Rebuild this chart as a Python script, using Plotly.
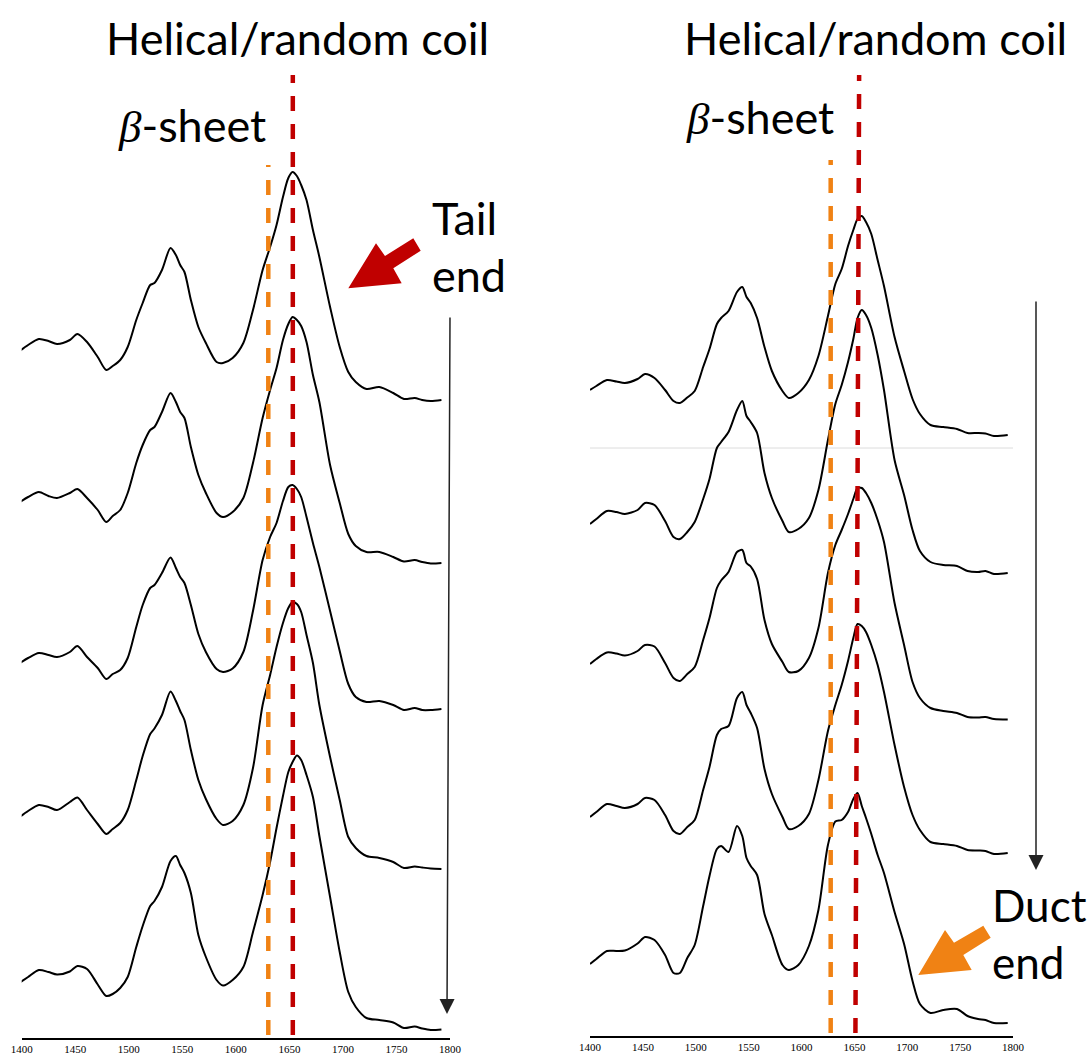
import plotly.graph_objects as go

W, H = 1088, 1055

# Wavenumber grids (cm^-1) for the two sets of spectra
wn_tail = [1397, 1406, 1416, 1425, 1433, 1445, 1452, 1461, 1471, 1479,
           1485, 1492, 1499, 1507, 1513, 1520, 1524, 1531, 1539, 1544,
           1548, 1552, 1558, 1565, 1572, 1582, 1588, 1597, 1607, 1616,
           1625, 1632, 1638, 1644, 1649, 1653, 1657, 1661, 1666, 1672,
           1678, 1688, 1697, 1705, 1712, 1722, 1734, 1747, 1757, 1767,
           1774, 1782, 1792]
wn_duct = [1400, 1406, 1416, 1425, 1433, 1445, 1452, 1461, 1471, 1479,
           1485, 1492, 1499, 1507, 1513, 1520, 1524, 1531, 1539, 1544,
           1548, 1552, 1558, 1565, 1572, 1582, 1588, 1597, 1607, 1616,
           1625, 1632, 1638, 1644, 1649, 1653, 1657, 1661, 1666, 1672,
           1678, 1688, 1697, 1705, 1712, 1722, 1734, 1747, 1757, 1767,
           1774, 1782, 1795]

# Baseline-corrected absorbance (a.u.), tail end series, top to bottom
tail_1 = [0.48, 0.55, 0.61, 0.59, 0.56, 0.60, 0.66, 0.58, 0.43, 0.30,
          0.34, 0.40, 0.53, 0.80, 0.97, 1.15, 1.17, 1.30, 1.52, 1.45,
          1.35, 1.28, 1.00, 0.73, 0.57, 0.38, 0.37, 0.42, 0.57, 0.90,
          1.30, 1.53, 1.75, 2.03, 2.22, 2.28, 2.24, 2.15, 2.00, 1.70,
          1.43, 0.93, 0.53, 0.28, 0.18, 0.11, 0.13, 0.07, 0.01, 0.02,
          0.00, -0.01, 0.00]
tail_2 = [0.60, 0.66, 0.71, 0.67, 0.65, 0.70, 0.74, 0.65, 0.53, 0.41,
          0.47, 0.53, 0.70, 1.00, 1.18, 1.33, 1.36, 1.51, 1.70, 1.61,
          1.51, 1.45, 1.16, 0.88, 0.70, 0.50, 0.46, 0.51, 0.65, 1.00,
          1.45, 1.73, 1.95, 2.23, 2.39, 2.46, 2.43, 2.37, 2.21, 1.88,
          1.61, 0.98, 0.60, 0.29, 0.17, 0.11, 0.11, 0.06, 0.015, 0.03,
          0.01, -0.005, 0.00]
tail_3 = [0.45, 0.51, 0.56, 0.54, 0.52, 0.57, 0.63, 0.52, 0.41, 0.30,
          0.35, 0.39, 0.51, 0.82, 1.04, 1.21, 1.24, 1.36, 1.515, 1.41,
          1.32, 1.26, 1.04, 0.75, 0.57, 0.40, 0.37, 0.405, 0.57, 0.98,
          1.49, 1.72, 1.86, 2.08, 2.22, 2.24, 2.20, 2.12, 1.92, 1.66,
          1.42, 0.98, 0.58, 0.25, 0.12, 0.07, 0.08, 0.04, -0.01, 0.01,
          -0.01, -0.01, 0.00]
tail_4 = [0.51, 0.58, 0.64, 0.62, 0.59, 0.67, 0.715, 0.59, 0.45, 0.35,
          0.40, 0.46, 0.59, 0.89, 1.13, 1.35, 1.405, 1.54, 1.775, 1.68,
          1.58, 1.49, 1.19, 0.89, 0.70, 0.50, 0.44, 0.48, 0.64, 1.01,
          1.64, 1.94, 2.22, 2.46, 2.61, 2.67, 2.65, 2.57, 2.34, 2.06,
          1.64, 1.12, 0.69, 0.32, 0.21, 0.13, 0.11, 0.07, 0.01, 0.025,
          0.015, 0.005, 0.00]
tail_5 = [0.46, 0.525, 0.595, 0.575, 0.55, 0.58, 0.635, 0.605, 0.45, 0.335,
          0.355, 0.415, 0.525, 0.825, 1.035, 1.235, 1.285, 1.425, 1.685, 1.735,
          1.645, 1.565, 1.365, 0.945, 0.725, 0.495, 0.44, 0.495, 0.625, 0.975,
          1.345, 1.675, 2.015, 2.335, 2.575, 2.675, 2.74, 2.695, 2.545, 2.325,
          1.935, 1.325, 0.775, 0.375, 0.225, 0.115, 0.095, 0.07, 0.015, 0.03,
          0.01, -0.005, 0.00]

# Baseline-corrected absorbance (a.u.), duct end series, top to bottom
duct_1 = [0.45, 0.49, 0.55, 0.535, 0.52, 0.56, 0.61, 0.57, 0.45, 0.34,
          0.32, 0.375, 0.44, 0.68, 0.86, 1.11, 1.17, 1.24, 1.43, 1.48,
          1.38, 1.32, 1.17, 0.88, 0.64, 0.44, 0.37, 0.42, 0.55, 0.79,
          1.19, 1.51, 1.66, 1.89, 2.05, 2.16, 2.19, 2.13, 2.01, 1.75,
          1.49, 0.98, 0.64, 0.36, 0.21, 0.10, 0.08, 0.06, 0.02, 0.02,
          0.015, -0.01, 0.00]
duct_2 = [0.49, 0.54, 0.62, 0.61, 0.59, 0.63, 0.70, 0.68, 0.52, 0.36,
          0.34, 0.41, 0.51, 0.74, 0.94, 1.25, 1.31, 1.41, 1.63, 1.72,
          1.57, 1.51, 1.40, 1.00, 0.75, 0.52, 0.41, 0.44, 0.55, 0.83,
          1.33, 1.69, 1.88, 2.11, 2.34, 2.55, 2.63, 2.58, 2.45, 2.18,
          1.83, 1.13, 0.78, 0.43, 0.22, 0.11, 0.08, 0.07, 0.02, 0.01,
          0.02, -0.01, 0.00]
duct_3 = [0.555, 0.605, 0.67, 0.66, 0.64, 0.685, 0.745, 0.73, 0.565, 0.415,
          0.385, 0.455, 0.525, 0.795, 1.015, 1.315, 1.39, 1.475, 1.675, 1.695,
          1.565, 1.53, 1.405, 0.995, 0.755, 0.575, 0.475, 0.485, 0.615, 0.915,
          1.465, 1.745, 1.895, 2.055, 2.205, 2.315, 2.315, 2.265, 2.165, 1.995,
          1.775, 1.165, 0.745, 0.375, 0.215, 0.115, 0.085, 0.065, 0.025, 0.02,
          0.025, 0.005, 0.00]
duct_4 = [0.36, 0.41, 0.49, 0.47, 0.45, 0.49, 0.55, 0.53, 0.38, 0.22,
          0.19, 0.26, 0.33, 0.63, 0.86, 1.18, 1.24, 1.27, 1.55, 1.61,
          1.48, 1.40, 1.25, 0.84, 0.59, 0.36, 0.24, 0.27, 0.39, 0.73,
          1.22, 1.48, 1.68, 1.92, 2.15, 2.29, 2.27, 2.21, 2.08, 1.88,
          1.61, 1.08, 0.66, 0.38, 0.23, 0.11, 0.09, 0.07, 0.03, 0.025,
          0.02, -0.01, 0.00]
duct_5 = [0.59, 0.64, 0.72, 0.72, 0.725, 0.795, 0.86, 0.83, 0.68, 0.50,
          0.50, 0.65, 0.78, 1.17, 1.47, 1.74, 1.77, 1.71, 1.97, 1.87,
          1.65, 1.57, 1.48, 1.09, 0.88, 0.58, 0.53, 0.58, 0.77, 1.13,
          1.78, 2.015, 2.03, 2.11, 2.24, 2.30, 2.17, 2.05, 1.89, 1.68,
          1.50, 1.11, 0.79, 0.42, 0.19, 0.10, 0.13, 0.14, 0.07, 0.04,
          0.03, 0.00, 0.00]

# Vertical stacking offsets (a.u.)
tail_offsets = [6.38, 4.75, 3.29, 1.69, 0.085]
duct_offsets = [6.007, 4.627, 3.162, 1.827, 0.127]

# Band positions (cm^-1) marked on each panel: [bottom, top]
tail_beta_x = [1630.3, 1630.3]
tail_helix_x = [1653.2, 1653.2]
duct_beta_x = [1627.6, 1627.6]
duct_helix_x = [1651.0, 1654.5]
tail_beta_y = [0.03, 8.73]
tail_helix_y = [0.03, 9.63]
duct_beta_y = [0.027, 8.757]
duct_helix_y = [0.027, 9.607]

tick_vals = [1400, 1450, 1500, 1550, 1600, 1650, 1700, 1750, 1800]

ORANGE = "#F08214"
RED = "#C00000"
TEXT_FONT = "Lato"

fig = go.Figure()

tail_series = [tail_1, tail_2, tail_3, tail_4, tail_5]
duct_series = [duct_1, duct_2, duct_3, duct_4, duct_5]

for series, off in zip(tail_series, tail_offsets):
    fig.add_trace(go.Scatter(x=wn_tail, y=[v + off for v in series],
                             mode="lines", line=dict(color="black", width=2,
                                                     shape="spline", smoothing=0.8),
                             xaxis="x", yaxis="y", showlegend=False,
                             hoverinfo="skip", cliponaxis=False))
for series, off in zip(duct_series, duct_offsets):
    fig.add_trace(go.Scatter(x=wn_duct, y=[v + off for v in series],
                             mode="lines", line=dict(color="black", width=2,
                                                     shape="spline", smoothing=0.8),
                             xaxis="x2", yaxis="y2", showlegend=False,
                             hoverinfo="skip"))

# Dashed band markers
for xs, ys, col, xa, ya in [
    (tail_beta_x, tail_beta_y, ORANGE, "x", "y"),
    (tail_helix_x, tail_helix_y, RED, "x", "y"),
    (duct_beta_x, duct_beta_y, ORANGE, "x2", "y2"),
    (duct_helix_x, duct_helix_y, RED, "x2", "y2"),
]:
    fig.add_trace(go.Scatter(x=xs, y=ys, mode="lines",
                             line=dict(color=col, width=4.5, dash="15px,13px"),
                             xaxis=xa, yaxis=ya, showlegend=False,
                             hoverinfo="skip"))


def px_path(points):
    return "M " + " L ".join(f"{x / W:.5f},{1 - y / H:.5f}" for x, y in points) + " Z"


red_arrow = [(348.3, 288.3), (376, 243.3), (385, 256), (413.3, 238.3),
             (420.7, 250.7), (393.3, 268.3), (401.7, 283.3)]
orange_arrow = [(918.3, 975), (945, 930), (954, 942.7), (983.3, 925.7),
                (990.7, 937.7), (963.3, 955), (971.7, 970)]

shapes = [
    dict(type="path", xref="paper", yref="paper", path=px_path(red_arrow),
         fillcolor=RED, line=dict(width=0)),
    dict(type="path", xref="paper", yref="paper", path=px_path(orange_arrow),
         fillcolor=ORANGE, line=dict(width=0)),
    dict(type="line", xref="x2", yref="y2", x0=1400, x1=1800, y0=5.877, y1=5.877,
         line=dict(color="#dcdcdc", width=1), layer="below"),
]


def label(text, x, yc, anchor="center", size=45):
    return dict(text=text, x=x / W, y=1 - yc / H, xref="paper", yref="paper",
                xanchor=anchor, yanchor="middle", showarrow=False,
                font=dict(family=TEXT_FONT, size=size, color="black"))


beta = "<span style=\"font-family:'Liberation Serif';font-style:italic\">β</span>-sheet"

annotations = [
    label("Helical/random coil", 297, 38),
    label("Helical/random coil", 875, 38),
    label(beta, 191.5, 125),
    label(beta, 759.5, 117),
    label("Tail", 430, 218, anchor="left"),
    label("end", 430, 275, anchor="left"),
    label("Duct", 990, 905, anchor="left", size=44),
    label("end", 990, 962, anchor="left", size=44),
    # ordering arrows along each stack
    dict(x=447 / W, y=1 - 1014 / H, xref="paper", yref="paper", text="",
         showarrow=True, ax=3, ay=-698, arrowhead=2, arrowsize=2,
         arrowwidth=1.5, arrowcolor="#222222", standoff=0),
    dict(x=1036 / W, y=1 - 870 / H, xref="paper", yref="paper", text="",
         showarrow=True, ax=0, ay=-570, arrowhead=2, arrowsize=2,
         arrowwidth=1.5, arrowcolor="#222222", standoff=0),
]

axis_common = dict(range=[1400, 1800], showgrid=False, zeroline=False,
                   showline=True, linecolor="black", linewidth=1.5,
                   tickmode="array", tickvals=tick_vals, ticks="",
                   tickfont=dict(family="Liberation Serif", size=11, color="black"),
                   automargin=False, fixedrange=True)

fig.update_layout(
    width=W, height=H,
    margin=dict(l=0, r=0, t=0, b=0, pad=0, autoexpand=False),
    paper_bgcolor="white", plot_bgcolor="white",
    xaxis=dict(domain=[21.7 / W, 450 / W], anchor="y", **axis_common),
    xaxis2=dict(domain=[590 / W, 1013 / W], anchor="y2", **axis_common),
    yaxis=dict(domain=[1 - 1038 / H, 1], range=[0, 10.38], visible=False,
               anchor="x", fixedrange=True, automargin=False),
    yaxis2=dict(domain=[1 - 1035.7 / H, 1], range=[0, 10.357], visible=False,
                anchor="x2", fixedrange=True, automargin=False),
    shapes=shapes,
    annotations=annotations,
    showlegend=False,
)

fig.write_html("out.html")
